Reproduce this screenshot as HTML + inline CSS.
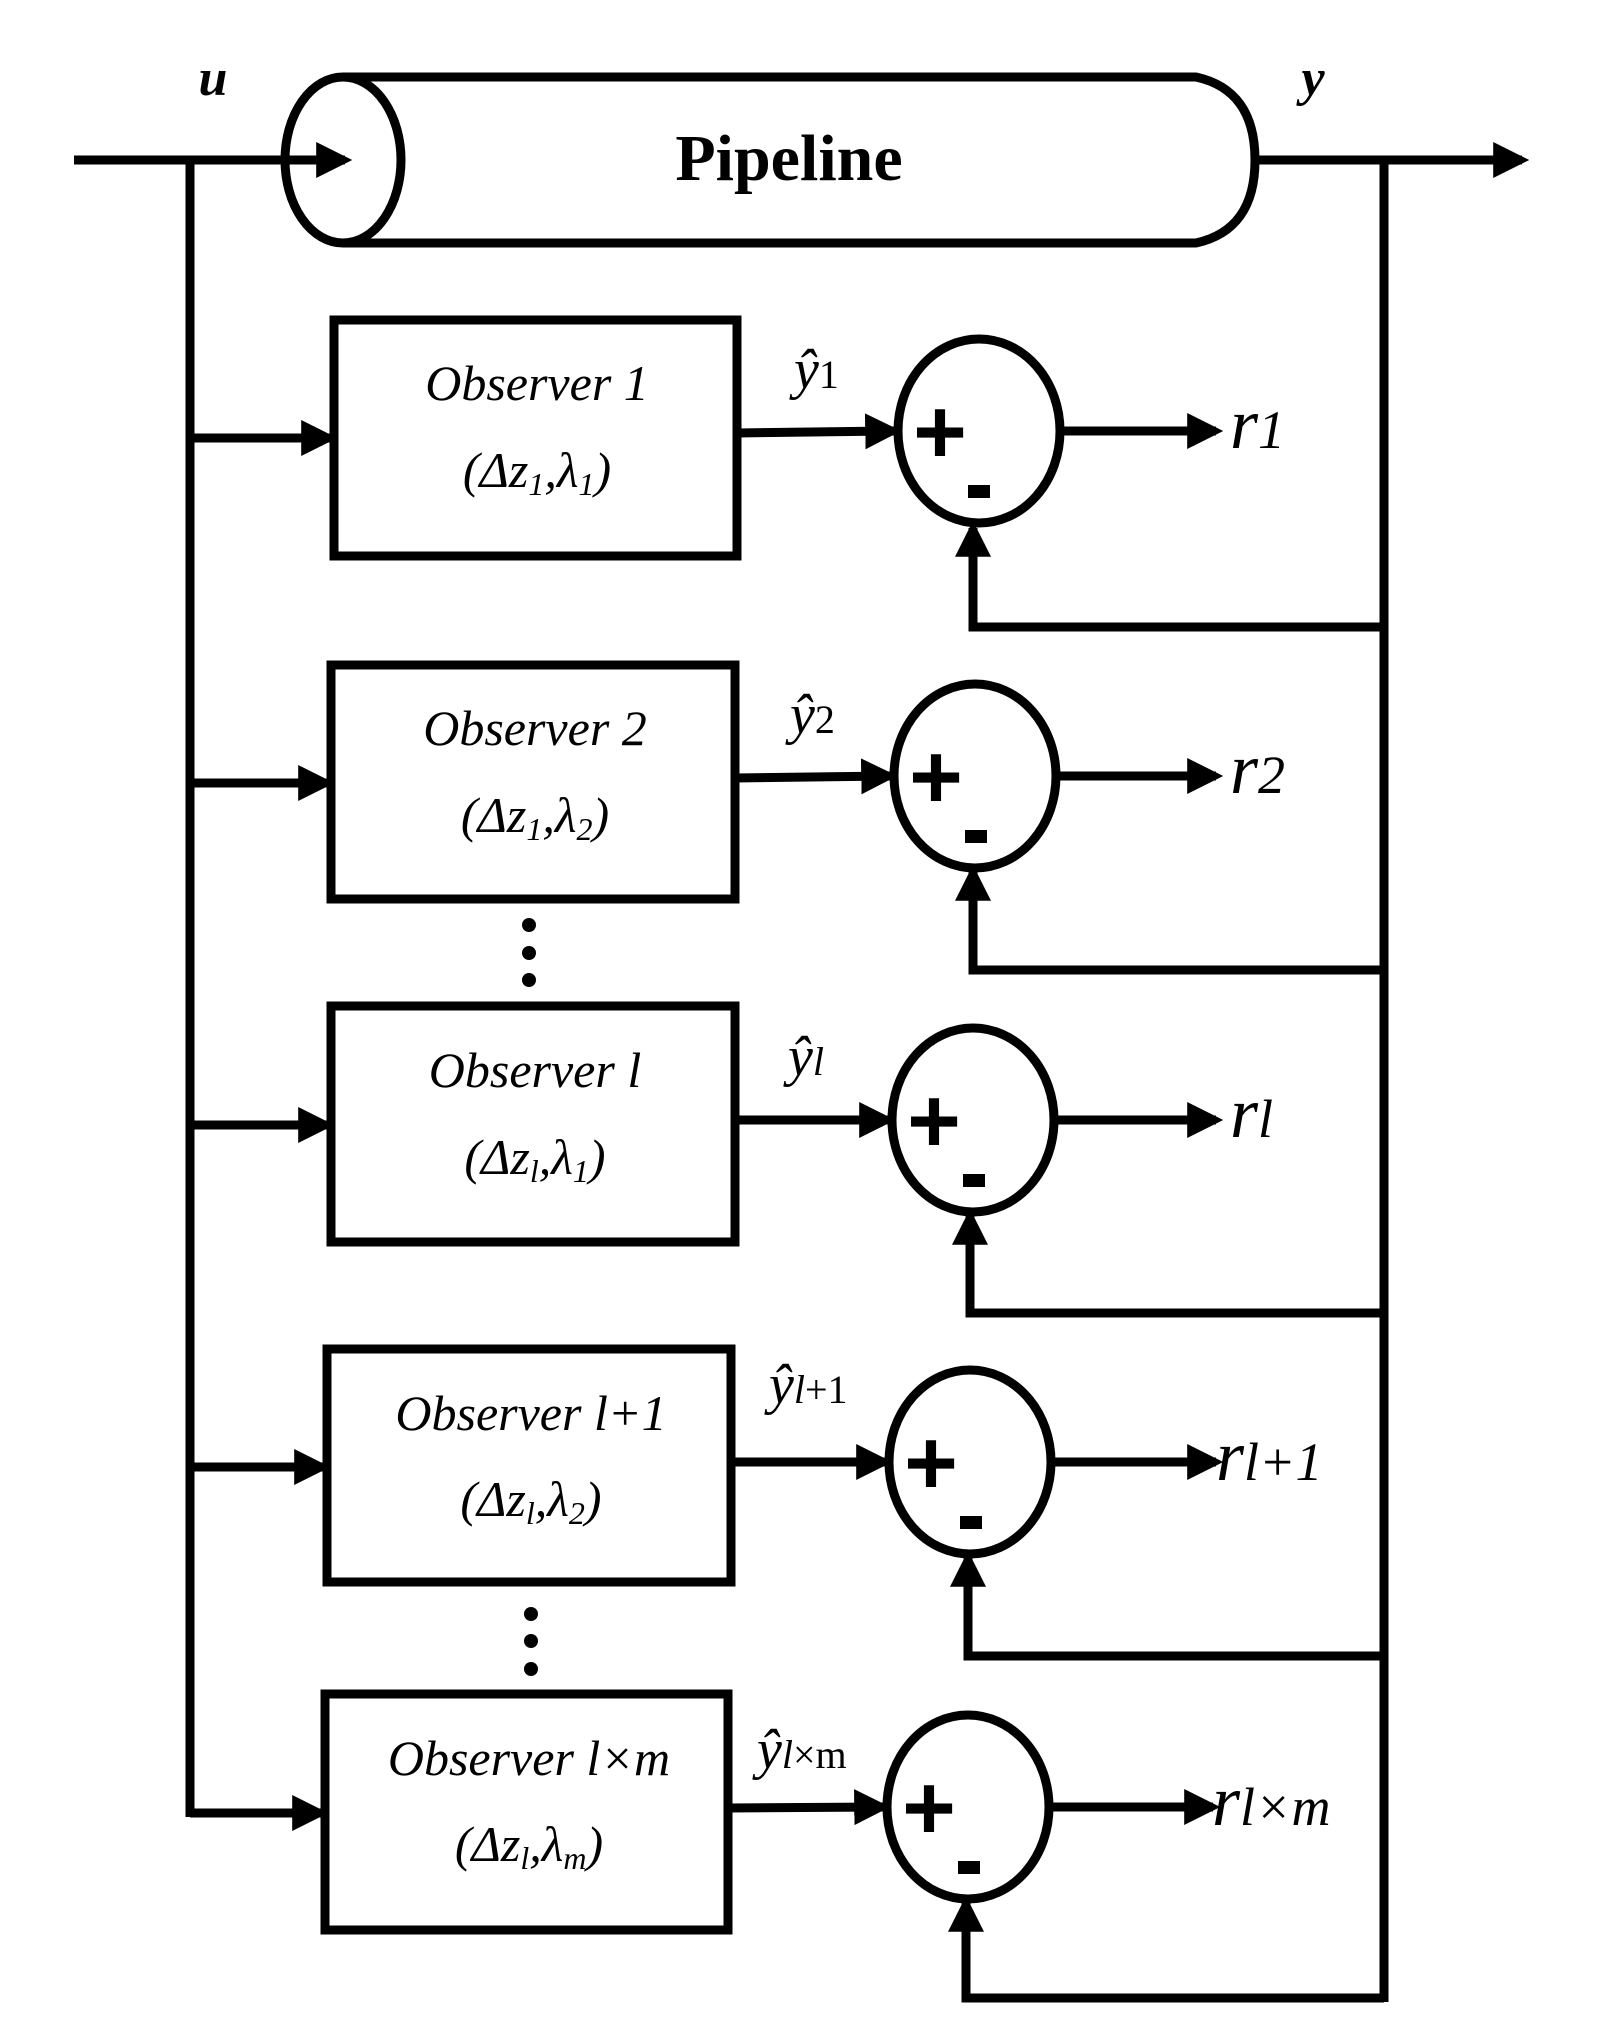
<!DOCTYPE html>
<html><head><meta charset="utf-8"><style>
html,body{margin:0;padding:0;background:#fff}
svg{display:block}
.t{font-family:"Liberation Serif",serif;font-style:italic;fill:#000}
</style></head><body>
<svg width="1604" height="2027" viewBox="0 0 1604 2027" xmlns="http://www.w3.org/2000/svg">
<defs>
<marker id="a" markerWidth="4" markerHeight="4" refX="3.2" refY="2" orient="auto" markerUnits="strokeWidth">
<path d="M0,0 L4,2 L0,4 Z" fill="#000"/></marker>
</defs>
<g stroke="#000" stroke-width="9" fill="none">
<line x1="74" y1="160" x2="345" y2="160" marker-end="url(#a)"/>
<line x1="190" y1="160" x2="190" y2="1817"/>
<path d="M343,77 L1196,77 Q1255,90 1255,160 Q1255,230 1196,243 L343,243"/>
<ellipse cx="343" cy="160" rx="58" ry="83"/>
<line x1="1255" y1="160" x2="1522" y2="160" marker-end="url(#a)"/>
<line x1="1384" y1="160" x2="1384" y2="2002"/>
</g>
<text x="789" y="180" font-family="Liberation Serif,serif" font-size="66" font-weight="bold" text-anchor="middle">Pipeline</text>
<text x="213" y="95" class="t" font-size="52" font-weight="bold" text-anchor="middle">u</text>
<text x="1313" y="95" class="t" font-size="52" font-weight="bold" text-anchor="middle">y</text>

<g stroke="#000" stroke-width="9" fill="none">
<line x1="190" y1="438" x2="330" y2="438" marker-end="url(#a)"/>
<rect x="334" y="320" width="403" height="236"/>
<line x1="737" y1="433" x2="894" y2="431" marker-end="url(#a)"/>
<ellipse cx="979" cy="431" rx="81" ry="92"/>
<line x1="1060" y1="431" x2="1216" y2="431" marker-end="url(#a)"/>
<polyline points="1384,627 973,627 973,528" marker-end="url(#a)"/>

<line x1="190" y1="783" x2="327" y2="783" marker-end="url(#a)"/>
<rect x="331" y="665" width="404" height="234"/>
<line x1="735" y1="778" x2="890" y2="776" marker-end="url(#a)"/>
<ellipse cx="975" cy="776" rx="81" ry="92"/>
<line x1="1056" y1="776" x2="1216" y2="776" marker-end="url(#a)"/>
<polyline points="1384,970 973,970 973,872" marker-end="url(#a)"/>

<line x1="190" y1="1125" x2="327" y2="1125" marker-end="url(#a)"/>
<rect x="331" y="1006" width="404" height="236"/>
<line x1="735" y1="1120" x2="888" y2="1120" marker-end="url(#a)"/>
<ellipse cx="973" cy="1120" rx="81" ry="92"/>
<line x1="1054" y1="1120" x2="1216" y2="1120" marker-end="url(#a)"/>
<polyline points="1384,1313 970,1313 970,1216" marker-end="url(#a)"/>

<line x1="190" y1="1467" x2="323" y2="1467" marker-end="url(#a)"/>
<rect x="327" y="1349" width="404" height="233"/>
<line x1="731" y1="1462" x2="885" y2="1462" marker-end="url(#a)"/>
<ellipse cx="970" cy="1462" rx="81" ry="92"/>
<line x1="1051" y1="1462" x2="1216" y2="1462" marker-end="url(#a)"/>
<polyline points="1384,1656 968,1656 968,1558" marker-end="url(#a)"/>

<line x1="190" y1="1813" x2="321" y2="1813" marker-end="url(#a)"/>
<rect x="325" y="1694" width="403" height="236"/>
<line x1="728" y1="1808" x2="883" y2="1807" marker-end="url(#a)"/>
<ellipse cx="968" cy="1807" rx="81" ry="92"/>
<line x1="1049" y1="1807" x2="1213" y2="1807" marker-end="url(#a)"/>
<polyline points="1384,1998 966,1998 966,1903" marker-end="url(#a)"/>
</g>

<g font-family="Liberation Sans,sans-serif" font-weight="bold">
<text x="940" y="463" font-size="92" text-anchor="middle">+</text><rect x="968" y="485" width="22" height="13"/>
<text x="936" y="808" font-size="92" text-anchor="middle">+</text><rect x="965" y="830" width="22" height="13"/>
<text x="934" y="1152" font-size="92" text-anchor="middle">+</text><rect x="963" y="1174" width="22" height="13"/>
<text x="931" y="1494" font-size="92" text-anchor="middle">+</text><rect x="960" y="1516" width="22" height="13"/>
<text x="929" y="1839" font-size="92" text-anchor="middle">+</text><rect x="958" y="1861" width="22" height="13"/>
</g>

<g fill="#000">
<circle cx="529" cy="925" r="7"/><circle cx="529" cy="953" r="7"/><circle cx="529" cy="980" r="7"/>
<circle cx="531" cy="1614" r="7"/><circle cx="531" cy="1641" r="7"/><circle cx="531" cy="1669" r="7"/>
</g>

<g class="t" font-size="50" text-anchor="middle">
<text x="537" y="400">Observer 1</text>
<text x="537" y="487">(Δz<tspan font-size="32" dy="8">1</tspan><tspan dy="-8">,λ</tspan><tspan font-size="32" dy="8">1</tspan><tspan dy="-8">)</tspan></text>
<text x="535" y="745">Observer 2</text>
<text x="535" y="832">(Δz<tspan font-size="32" dy="8">1</tspan><tspan dy="-8">,λ</tspan><tspan font-size="32" dy="8">2</tspan><tspan dy="-8">)</tspan></text>
<text x="535" y="1087">Observer l</text>
<text x="535" y="1174">(Δz<tspan font-size="32" dy="8">l</tspan><tspan dy="-8">,λ</tspan><tspan font-size="32" dy="8">1</tspan><tspan dy="-8">)</tspan></text>
<text x="531" y="1430">Observer l+1</text>
<text x="531" y="1516">(Δz<tspan font-size="32" dy="8">l</tspan><tspan dy="-8">,λ</tspan><tspan font-size="32" dy="8">2</tspan><tspan dy="-8">)</tspan></text>
<text x="529" y="1775">Observer l×m</text>
<text x="529" y="1861">(Δz<tspan font-size="32" dy="8">l</tspan><tspan dy="-8">,λ</tspan><tspan font-size="32" dy="8">m</tspan><tspan dy="-8">)</tspan></text>
</g>

<g class="t" font-size="56">
<text x="794" y="388">ŷ<tspan font-style="normal" font-size="40">1</tspan></text>
<text x="790" y="733">ŷ<tspan font-style="normal" font-size="40">2</tspan></text>
<text x="788" y="1075">ŷ<tspan font-size="40">l</tspan></text>
<text x="769" y="1403">ŷ<tspan font-size="40" font-style="normal"><tspan font-style="italic">l</tspan>+1</tspan></text>
<text x="757" y="1768">ŷ<tspan font-size="40" font-style="normal"><tspan font-style="italic">l</tspan>×m</tspan></text>
</g>

<g class="t" font-size="72">
<text x="1230" y="448">r<tspan font-size="54">1</tspan></text>
<text x="1230" y="793">r<tspan font-size="54">2</tspan></text>
<text x="1230" y="1137">r<tspan font-size="54">l</tspan></text>
<text x="1216" y="1480">r<tspan font-size="54">l+1</tspan></text>
<text x="1212" y="1825">r<tspan font-size="54">l×m</tspan></text>
</g>
</svg>
</body></html>
